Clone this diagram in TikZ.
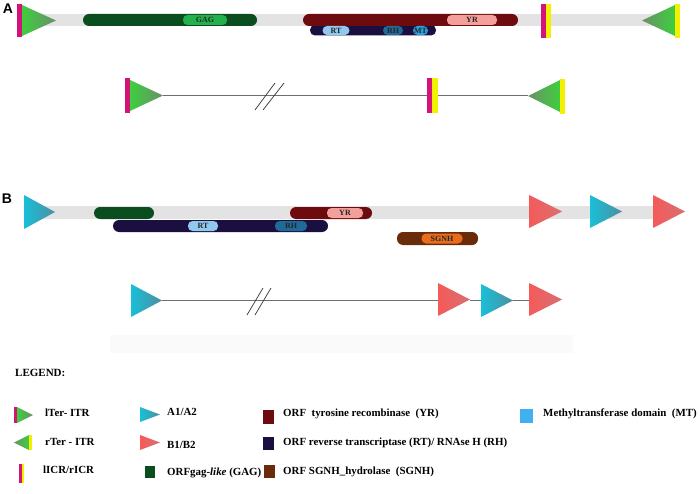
\documentclass[tikz,border=0pt]{standalone}
\usepackage{fontspec}
\setmainfont{Liberation Serif}
\newfontfamily\labsans{Liberation Sans}
\definecolor{bandc}{HTML}{E3E3E3}
\definecolor{gagdark}{HTML}{0B4D1E}
\definecolor{gaglab}{HTML}{22B14C}
\definecolor{yrdark}{HTML}{6E0B0E}
\definecolor{yrlab}{HTML}{F4A09A}
\definecolor{rtdark}{HTML}{1B0F3F}
\definecolor{rtlab}{HTML}{90C8EE}
\definecolor{rhlab}{HTML}{1E6A98}
\definecolor{mtlab}{HTML}{2A9FE0}
\definecolor{sgdark}{HTML}{6A2C08}
\definecolor{sglab}{HTML}{E86C1C}
\definecolor{magc}{HTML}{D4137A}
\definecolor{yelc}{HTML}{F5F000}
\definecolor{grnb}{HTML}{3ECF3E}
\definecolor{grna}{HTML}{6A8F6A}
\definecolor{cyb}{HTML}{18C0D8}
\definecolor{cya}{HTML}{4F8EA0}
\definecolor{rdb}{HTML}{F55A5A}
\definecolor{rda}{HTML}{D87070}
\definecolor{mtleg}{HTML}{40B0F0}
\definecolor{linec}{HTML}{6E6E6E}
% right-pointing triangle: base x, apex x, top y, bottom y, base colour, apex colour
\newcommand\TriRight[6]{\shade[left color=#5,right color=#6] (#1,#3) -- (#2,{(#3+#4)/2}) -- (#1,#4) -- cycle;}
% left-pointing triangle: apex x, base x, top y, bottom y, apex colour, base colour
\newcommand\TriLeft[6]{\shade[left color=#5,right color=#6] (#1,{(#3+#4)/2}) -- (#2,#3) -- (#2,#4) -- cycle;}
\begin{document}
\begin{tikzpicture}[x=1pt,y=-1pt,
  bar/.style={rounded corners=6pt},
  sbar/.style={rounded corners=5pt},
  lab/.style={rounded corners=4.5pt, inner sep=0pt, minimum height=10pt, text=black!85,
     font=\bfseries\fontsize{8}{8}\selectfont},
  mapline/.style={draw=linec, line width=1pt},
  brk/.style={draw=black!80, line width=0.7pt},
  legtxt/.style={anchor=west, inner sep=0pt, font=\bfseries\fontsize{10.9}{12}\selectfont},
  panel/.style={font=\labsans\bfseries\fontsize{14}{14}\selectfont, inner sep=0pt}]
\useasboundingbox (0,0) rectangle (700,494);
\fill[white] (0,0) rectangle (700,494);

% ================= A =================
\node[panel] (labA) at (8,9) {A};
\fill[bandc] (22,14) rectangle (660,26);
\fill[magc] (17,4) rectangle (22,37);
\TriRight{22}{56}{5}{36}{grnb}{grna}
\fill[gagdark,bar] (83,14) rectangle (257,26);
\node[lab,fill=gaglab,minimum width=44pt] (gagA) at (205,20) {GAG};
\fill[rtdark,sbar] (310,25) rectangle (436,35.5);
\fill[yrdark,bar] (303,14) rectangle (518,26);
\node[lab,fill=yrlab,minimum width=50pt] (yrA) at (472,20) {YR};
\node[lab,fill=rtlab,minimum width=27pt,minimum height=9pt] (rtA) at (336,30.5) {RT};
\node[lab,fill=rhlab,minimum width=20pt,minimum height=9pt] (rhA) at (393,30.5) {RH};
\node[lab,fill=mtlab,minimum width=15pt,minimum height=9pt] (mtA) at (420.5,30.5) {MT};
\fill[magc] (541,4) rectangle (546,38);
\fill[yelc] (546,4) rectangle (551,38);
\TriLeft{642}{675}{5}{36}{grna}{grnb}
\fill[yelc] (675,4) rectangle (680,38);

% A map
\fill[magc] (125,78) rectangle (130,113);
\TriRight{130}{163}{80}{111}{grnb}{grna}
\coordinate (aStart) at (163,95.5);
\coordinate (aIcrL) at (427,95.5);
\coordinate (aIcrR) at (438,95.5);
\coordinate (aEnd) at (528,95.5);
\draw[mapline] (aStart) -- (aIcrL);
\draw[mapline] (aIcrR) -- (aEnd);
\fill[magc] (427,78) rectangle (432,113);
\fill[yelc] (432,78) rectangle (438,113);
\TriLeft{528}{560}{80}{112}{grna}{grnb}
\fill[yelc] (560,79) rectangle (565,114);
\draw[brk] (255,110) -- (275,83);
\draw[brk] (263,110) -- (284,83);

% ================= B =================
\node[panel] (labB) at (7,199) {B};
\fill[bandc] (40,206) rectangle (657,219);
\TriRight{24}{55}{195}{229}{cyb}{cya}
\fill[gagdark,bar] (94,207) rectangle (154,219);
\fill[rtdark,bar] (113,220) rectangle (328,232);
\node[lab,fill=rtlab,minimum width=30pt] (rtB) at (203,226) {RT};
\node[lab,fill=rhlab,minimum width=32pt] (rhB) at (291,226) {RH};
\fill[yrdark,bar] (290,207) rectangle (372,219);
\node[lab,fill=yrlab,minimum width=36pt] (yrB) at (345,213) {YR};
\fill[sgdark,bar] (397,232) rectangle (478,245);
\node[lab,fill=sglab,minimum width=41pt] (sgB) at (442,238.5) {SGNH};
\TriRight{529}{562}{195}{228}{rdb}{rda}
\TriRight{590}{622}{195}{228}{cyb}{cya}
\TriRight{653}{685}{195}{228}{rdb}{rda}

% B map
\fill[black!2] (110,335) rectangle (573,353);
\TriRight{131}{162}{284}{317}{cyb}{cya}
\coordinate (bStart) at (162,300);
\coordinate (bB1) at (438,300);
\coordinate (bB1a) at (470,300);
\coordinate (bA2) at (481,300);
\coordinate (bA2a) at (513,300);
\coordinate (bB2) at (529,300);
\draw[mapline] (bStart) -- (bB1);
\draw[mapline] (bB1a) -- (bA2);
\draw[mapline] (bA2a) -- (bB2);
\TriRight{438}{470}{283}{316}{rdb}{rda}
\TriRight{481}{513}{284}{317}{cyb}{cya}
\TriRight{529}{562}{283}{316}{rdb}{rda}
\draw[brk] (247,315) -- (263,288);
\draw[brk] (255,315) -- (271,288);

% ================= LEGEND =================
\node[anchor=west,inner sep=0pt,font=\bfseries\fontsize{11}{12}\selectfont] (legT) at (15,373) {LEGEND:};
% column 1
\fill[magc] (14,407) rectangle (17,423);
\TriRight{17}{33}{407}{423}{grnb}{grna}
\node[legtxt] (l1) at (45,413) {lTer- ITR};
\TriLeft{14}{29}{435}{450}{grna}{grnb}
\fill[yelc] (29,435) rectangle (32,450);
\node[legtxt] (l2) at (45,442) {rTer - ITR};
\fill[magc] (19,464) rectangle (21.5,483);
\fill[yelc] (21.5,464) rectangle (24,483);
\node[legtxt] (l3) at (43,470) {lICR/rICR};
% column 2
\TriRight{140}{160}{407}{422}{cyb}{cya}
\node[legtxt] (l4) at (167,412) {A1/A2};
\TriRight{140}{160}{435}{450}{rdb}{rda}
\node[legtxt] (l5) at (167,445) {B1/B2};
\fill[gagdark] (145,466) rectangle (155,478);
\node[legtxt] (l6) at (167,473) {ORFgag-\textit{like} (GAG)};
% column 3
\fill[yrdark] (263,410) rectangle (274,424);
\node[legtxt] (l7) at (283,414) {ORF\ \ tyrosine recombinase\ \ (YR)};
\fill[rtdark] (263,437) rectangle (274,450);
\node[legtxt] (l8) at (283,443) {ORF reverse transcriptase (RT)/ RNAse H (RH)};
\fill[sgdark] (264,465) rectangle (275,478);
\node[legtxt] (l9) at (283,472) {ORF SGNH\_hydrolase\ \ (SGNH)};
% column 4
\fill[mtleg] (520,409) rectangle (533,423);
\node[legtxt] (l10) at (543,414) {Methyltransferase domain\ \ (MT)};
\end{tikzpicture}
\end{document}
